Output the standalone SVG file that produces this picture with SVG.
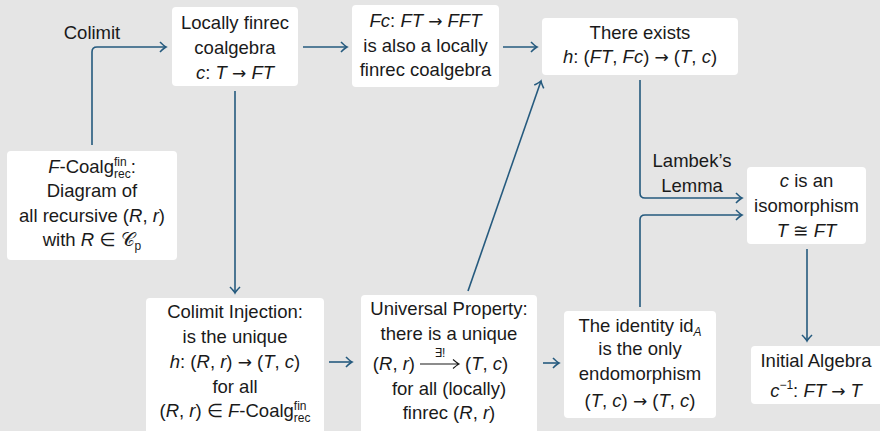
<svg xmlns="http://www.w3.org/2000/svg" width="880" height="431" viewBox="0 0 880 431">
<style>
  text { font-family: "Liberation Sans", "DejaVu Sans", sans-serif; font-size: 18.5px; fill: #1a1a1a; text-anchor: middle; }
  .i { font-style: italic; }
  .s { font-size: 12px; }
  .ar { font-family: "DejaVu Sans", sans-serif; font-size: 17px; }
  .box { fill: #ffffff; stroke: none; }
  .c { fill: none; stroke: #255a7e; stroke-width: 1.6; marker-end: url(#ah); }
</style>
<defs>
  <marker id="ah" markerUnits="userSpaceOnUse" markerWidth="12" markerHeight="12" viewBox="-8 -6 10 12" refX="0" refY="0" orient="auto">
    <path d="M-6,-5 Q-2,-1 0,0 Q-2,1 -6,5" fill="none" stroke="#255a7e" stroke-width="1.6"/>
  </marker>
</defs>
<rect x="0" y="0" width="880" height="431" fill="#e5e5e5"/>

<g id="connectors">
  <path class="c" d="M92,145 V52 Q92,47 97,47 H166"/>
  <path class="c" d="M303,47 H347"/>
  <path class="c" d="M503,47 H537"/>
  <path class="c" d="M235,91 V293"/>
  <path class="c" d="M329,362 H352"/>
  <path class="c" d="M468,291 L541,81"/>
  <path class="c" d="M543,363 H559"/>
  <path class="c" d="M640,80 V193 Q640,198 645,198 H742"/>
  <path class="c" d="M640,307 V220 Q640,215 645,215 H742"/>
  <path class="c" d="M807,249 V341"/>
  <text x="92" y="39">Colimit</text>
  <text x="692" y="167">Lambek’s</text>
  <text x="692" y="192">Lemma</text>
</g>

<g id="n-locally">
  <rect class="box" x="172" y="7" width="126" height="79" rx="4"/>
  <text x="235" y="29">Locally finrec</text>
  <text x="235" y="54">coalgebra</text>
  <text x="235" y="79"><tspan class="i">c</tspan>: <tspan class="i">T</tspan> <tspan class="ar">→</tspan> <tspan class="i">FT</tspan></text>
</g>

<g id="n-fc">
  <rect class="box" x="352" y="5" width="147" height="82" rx="4"/>
  <text x="425.5" y="27"><tspan class="i">Fc</tspan>: <tspan class="i">FT</tspan> <tspan class="ar">→</tspan> <tspan class="i">FFT</tspan></text>
  <text x="425.5" y="52">is also a locally</text>
  <text x="425.5" y="76">finrec coalgebra</text>
</g>

<g id="n-exists">
  <rect class="box" x="542" y="18" width="196" height="57" rx="4"/>
  <text x="640" y="39">There exists</text>
  <text x="640" y="63"><tspan class="i">h</tspan>: (<tspan class="i">FT</tspan>, <tspan class="i">Fc</tspan>) <tspan class="ar">→</tspan> (<tspan class="i">T</tspan>, <tspan class="i">c</tspan>)</text>
</g>

<g id="n-coalg">
  <rect class="box" x="7" y="151" width="170" height="109" rx="4"/>
  <text x="92" y="173"><tspan class="i">F</tspan>-Coalg<tspan class="s" dy="-7">fin</tspan><tspan class="s" dx="-12.7" dy="12">rec</tspan><tspan dy="-5">:</tspan></text>
  <text x="92" y="197">Diagram of</text>
  <text x="92" y="222">all recursive (<tspan class="i">R</tspan>, <tspan class="i">r</tspan>)</text>
  <text x="92" y="246">with <tspan class="i">R</tspan> ∈ 𝒞<tspan class="s" dy="4">p</tspan></text>
</g>

<g id="n-iso">
  <rect class="box" x="747" y="167" width="119" height="77" rx="4"/>
  <text x="806.5" y="187"><tspan class="i">c</tspan> is an</text>
  <text x="806.5" y="212">isomorphism</text>
  <text x="806.5" y="237"><tspan class="i">T</tspan> ≅ <tspan class="i">FT</tspan></text>
</g>

<g id="n-inj">
  <rect class="box" x="146" y="298" width="178" height="140" rx="4"/>
  <text x="235" y="318">Colimit Injection:</text>
  <text x="235" y="343">is the unique</text>
  <text x="235" y="368"><tspan class="i">h</tspan>: (<tspan class="i">R</tspan>, <tspan class="i">r</tspan>) <tspan class="ar">→</tspan> (<tspan class="i">T</tspan>, <tspan class="i">c</tspan>)</text>
  <text x="235" y="393">for all</text>
  <text x="235" y="417">(<tspan class="i">R</tspan>, <tspan class="i">r</tspan>) ∈ <tspan class="i">F</tspan>-Coalg<tspan class="s" dy="-7">fin</tspan><tspan class="s" dx="-12.7" dy="12">rec</tspan></text>
</g>

<g id="n-univ">
  <rect class="box" x="361" y="295" width="176" height="145" rx="4"/>
  <text x="449" y="315">Universal Property:</text>
  <text x="449" y="340">there is a unique</text>
  <text x="415" y="370" style="text-anchor:end">(<tspan class="i">R</tspan>, <tspan class="i">r</tspan>)</text>
  <path d="M420,364 H459 M453,359.5 Q457,363 459,364 Q457,365 453,368.5" fill="none" stroke="#1a1a1a" stroke-width="1.1"/>
  <text x="440" y="357" class="s">∃!</text>
  <text x="465" y="370" style="text-anchor:start">(<tspan class="i">T</tspan>, <tspan class="i">c</tspan>)</text>
  <text x="449" y="395">for all (locally)</text>
  <text x="449" y="419">finrec (<tspan class="i">R</tspan>, <tspan class="i">r</tspan>)</text>
</g>

<g id="n-id">
  <rect class="box" x="564" y="311" width="152" height="107" rx="4"/>
  <text x="640" y="332">The identity id<tspan class="s i" dy="4">A</tspan></text>
  <text x="640" y="355">is the only</text>
  <text x="640" y="380">endomorphism</text>
  <text x="640" y="407">(<tspan class="i">T</tspan>, <tspan class="i">c</tspan>) <tspan class="ar">→</tspan> (<tspan class="i">T</tspan>, <tspan class="i">c</tspan>)</text>
</g>

<g id="n-init">
  <rect class="box" x="751" y="346" width="135" height="58" rx="4"/>
  <text x="816" y="367">Initial Algebra</text>
  <text x="816" y="397"><tspan class="i">c</tspan><tspan class="s" dy="-8">−1</tspan><tspan dy="8">: </tspan><tspan class="i">FT</tspan> <tspan class="ar">→</tspan> <tspan class="i">T</tspan></text>
</g>
</svg>
